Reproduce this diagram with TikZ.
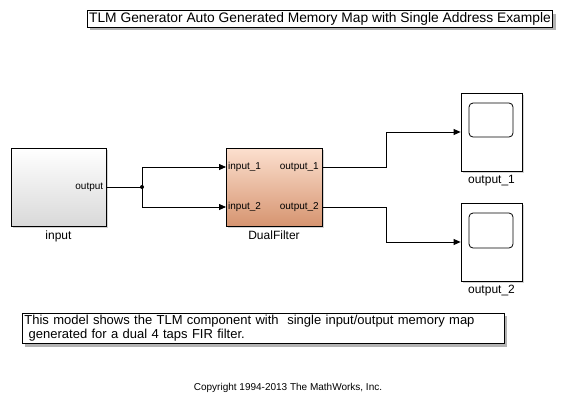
\documentclass[tikz,border=0pt]{standalone}
\usepackage{fontspec}
\setmainfont{Liberation Sans}
\usepackage{tikz}
\usetikzlibrary{arrows.meta,positioning,shadows}
\definecolor{dftop}{RGB}{252,224,207}
\definecolor{dfmid}{RGB}{244,204,180}
\definecolor{dfbot}{RGB}{214,148,112}

\begin{document}
\begin{tikzpicture}[x=1pt, y=-1pt,
  blk/.style={draw, line width=0.8pt, minimum width=95pt, minimum height=78pt, inner sep=0pt,
    drop shadow={shadow xshift=1.5pt, shadow yshift=-1.5pt, opacity=0.35}},
  port/.style={font=\fontsize{10}{12}\selectfont, inner sep=0pt},
  lbl/.style={font=\fontsize{12}{14}\selectfont, inner sep=0pt},
  note/.style={draw, fill=white, line width=0.8pt, inner sep=2pt, align=left,
    drop shadow={shadow xshift=3pt, shadow yshift=-3pt, opacity=0.6}},
  sig/.style={line width=0.8pt, -{Triangle[length=7pt, width=6pt]}},
  wire/.style={line width=0.8pt}
]
\useasboundingbox (0,0) rectangle (569,407);

% annotations
\node[note, font=\fontsize{13.8}{15}\selectfont] (title) at (320,19)
  {TLM Generator Auto Generated Memory Map with Single Address Example};
\node[note, font=\fontsize{13}{14}\selectfont, anchor=north west, text width=478pt] (desc) at (22,313)
  {This model shows the TLM component with \ single input/output memory map\\
   \ generated for a dual 4 taps FIR filter.};
\node[font=\fontsize{10}{12}\selectfont] (copy) at (288,388) {Copyright 1994-2013 The MathWorks, Inc.};

% blocks
\node[blk, top color=white, bottom color=black!15] (in) at (58.5,187) {};
\node[lbl, below=4pt of in] {input};
\node[port, anchor=east] at ([xshift=-3pt]in.east) {output};

\node[blk, minimum width=96pt, top color=dftop, middle color=dfmid, bottom color=dfbot] (df) at (274,187) {};
\node[lbl, below=4pt of df] {DualFilter};
\coordinate (df-in1) at (226,167);
\coordinate (df-in2) at (226,207);
\coordinate (df-out1) at (322,167);
\coordinate (df-out2) at (322,207);
\node[port, anchor=west] at ([xshift=2pt]df-in1) {input\_1};
\node[port, anchor=west] at ([xshift=2pt]df-in2) {input\_2};
\node[port, anchor=east] at ([xshift=-3pt]df-out1) {output\_1};
\node[port, anchor=east] at ([xshift=-3pt]df-out2) {output\_2};

\node[blk, fill=white, minimum width=61pt] (sc1) at (491.5,132) {};
\draw[line width=0.8pt, rounded corners=4pt] (469,103) rectangle (513,137);
\node[lbl, below=4pt of sc1] {output\_1};
\node[blk, fill=white, minimum width=61pt] (sc2) at (491.5,242) {};
\draw[line width=0.8pt, rounded corners=4pt] (469,213) rectangle (513,248);
\node[lbl, below=4pt of sc2] {output\_2};

% signals
\coordinate (br) at (142,187);
\draw[wire] (in.east) -- (br);
\fill (br) circle (2pt);
\draw[sig] (br) |- (df-in1);
\draw[sig] (br) |- (df-in2);
\draw[sig] (df-out1) -- (386,167) |- (sc1.west);
\draw[sig] (df-out2) -- (386,207) |- (sc2.west);
\end{tikzpicture}
\end{document}
